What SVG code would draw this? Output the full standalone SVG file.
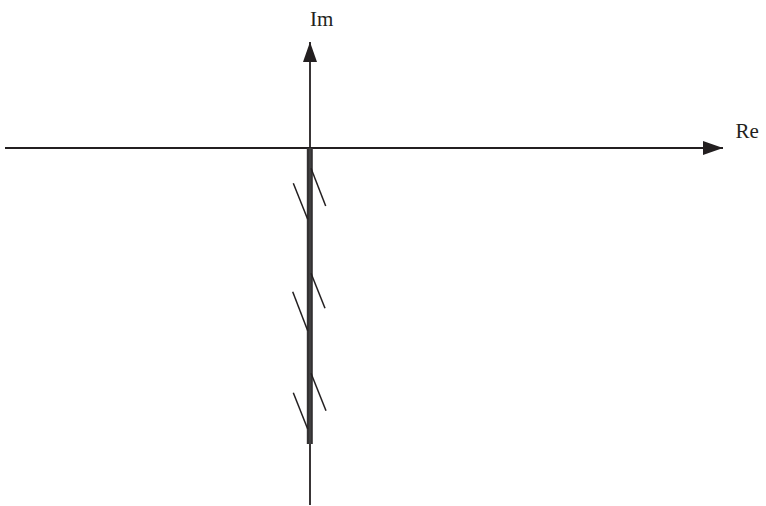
<svg xmlns="http://www.w3.org/2000/svg" width="766" height="506" viewBox="0 0 766 506">
<defs>
<marker id="arr" viewBox="0 0 20 14" refX="20" refY="7" markerWidth="20" markerHeight="14" markerUnits="userSpaceOnUse" orient="auto">
<path d="M0,0 L20,7 L0,14 Z" fill="#231f20"/>
</marker>
<style>
.axis{stroke:#231f20;stroke-width:1.8;fill:none}
.hatch{stroke:#231f20;stroke-width:1.5;fill:none}
.lbl{font-family:"Liberation Serif","Times New Roman",serif;font-size:21px;fill:#231f20}
</style>
</defs>
<g id="connectors">
<line class="axis" x1="5" y1="148" x2="723" y2="148" marker-end="url(#arr)"/>
<line class="axis" x1="310" y1="505" x2="310" y2="42" marker-end="url(#arr)"/>
</g>
<g id="cut">
<rect x="306.8" y="148" width="6" height="296" fill="#333132"/>
<line x1="310" y1="148" x2="310" y2="444" stroke="#555" stroke-width="0.8"/>
<line class="hatch" x1="293.3" y1="183.3" x2="307.7" y2="219.3"/>
<line class="hatch" x1="311" y1="168.3" x2="325.7" y2="206"/>
<line class="hatch" x1="292.7" y1="291.7" x2="307.7" y2="330.7"/>
<line class="hatch" x1="311" y1="273.3" x2="325" y2="308.3"/>
<line class="hatch" x1="293.3" y1="392.7" x2="307.7" y2="429"/>
<line class="hatch" x1="311" y1="373.3" x2="326" y2="410.7"/>
</g>
<g id="label-im"><text class="lbl" x="310" y="26">Im</text></g>
<g id="label-re"><text class="lbl" x="735.5" y="137.5">Re</text></g>
</svg>
